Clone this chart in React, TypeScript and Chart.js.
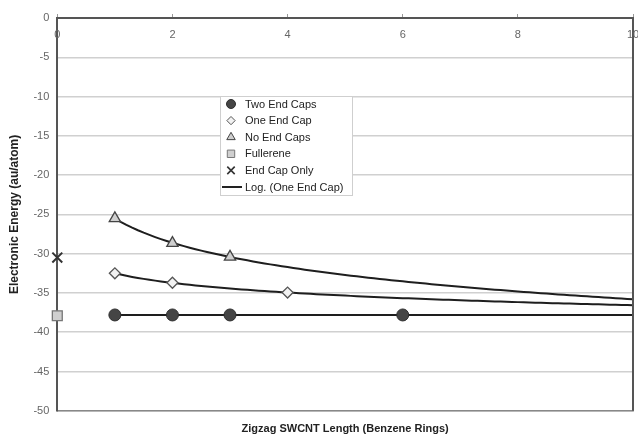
import React, { useEffect, useRef } from "react";
import { Chart, registerables } from "chart.js";

Chart.register(...registerables);

// ---- data ----
const twoEndCapsX = [1, 2, 3, 6];
const twoEndCapsY = [-37.8, -37.8, -37.8, -37.8];
const oneEndCapX = [1, 2, 4];
const oneEndCapY = [-32.5, -33.7, -34.95];
const noEndCapsX = [1, 2, 3];
const noEndCapsY = [-25.5, -28.65, -30.4];
const fullereneX = [0];
const fullereneY = [-37.9];
const endCapOnlyX = [0];
const endCapOnlyY = [-30.5];
const xTickLabels = [0, 2, 4, 6, 8, 10];
const trendStart = 1;
const trendEnd = 10;
const legendLabels = [
  "Two End Caps",
  "One End Cap",
  "No End Caps",
  "Fullerene",
  "End Cap Only",
  "Log. (One End Cap)",
];

const FONT = "'Liberation Sans', Arial, Helvetica, sans-serif";

function pts(xs: number[], ys: number[]) {
  return xs.map((x, i) => ({ x, y: ys[i] }));
}

// least-squares logarithmic trendline (y = a ln x + b), as a spreadsheet does
function logTrend(xs: number[], ys: number[]) {
  const n = xs.length;
  const lx = xs.map((x) => Math.log(x));
  const mx = lx.reduce((s, v) => s + v, 0) / n;
  const my = ys.reduce((s, v) => s + v, 0) / n;
  let sxy = 0;
  let sxx = 0;
  for (let i = 0; i < n; i++) {
    sxy += (lx[i] - mx) * (ys[i] - my);
    sxx += (lx[i] - mx) * (lx[i] - mx);
  }
  const a = sxx === 0 ? 0 : sxy / sxx;
  const b = my - a * mx;
  const out: { x: number; y: number }[] = [];
  const steps = 90;
  for (let k = 0; k <= steps; k++) {
    const x = trendStart + ((trendEnd - trendStart) * k) / steps;
    out.push({ x, y: a * Math.log(x) + b });
  }
  return out;
}

const markerStyles = [
  { pointStyle: "circle", radius: 6, bg: "#454545", border: "#2e2e2e", bw: 1 },
  { pointStyle: "rectRot", radius: 5.5, bg: "#f2f2f2", border: "#555", bw: 1.3 },
  { pointStyle: "triangle", radius: 6.5, bg: "#cfcfcf", border: "#444", bw: 1.3 },
  { pointStyle: "rect", radius: 7, bg: "#cfcfcf", border: "#777", bw: 1.3 },
  { pointStyle: "crossRot", radius: 7, bg: "#333", border: "#333", bw: 2 },
];

function drawMarker(ctx: CanvasRenderingContext2D, style: string, x: number, y: number, r: number, bg: string, border: string, bw: number) {
  ctx.save();
  ctx.fillStyle = bg;
  ctx.strokeStyle = border;
  ctx.lineWidth = bw;
  ctx.beginPath();
  if (style === "circle") {
    ctx.arc(x, y, r, 0, Math.PI * 2);
    ctx.fill();
    ctx.stroke();
  } else if (style === "rectRot") {
    ctx.moveTo(x, y - r);
    ctx.lineTo(x + r, y);
    ctx.lineTo(x, y + r);
    ctx.lineTo(x - r, y);
    ctx.closePath();
    ctx.fill();
    ctx.stroke();
  } else if (style === "triangle") {
    ctx.moveTo(x, y - r);
    ctx.lineTo(x + r * 0.87, y + r * 0.5);
    ctx.lineTo(x - r * 0.87, y + r * 0.5);
    ctx.closePath();
    ctx.fill();
    ctx.stroke();
  } else if (style === "rect") {
    const s = r * Math.SQRT1_2;
    ctx.rect(x - s, y - s, 2 * s, 2 * s);
    ctx.fill();
    ctx.stroke();
  } else if (style === "crossRot") {
    const s = r * Math.SQRT1_2;
    ctx.moveTo(x - s, y - s);
    ctx.lineTo(x + s, y + s);
    ctx.moveTo(x + s, y - s);
    ctx.lineTo(x - s, y + s);
    ctx.stroke();
  }
  ctx.restore();
}

const framePlugin = {
  id: "frameAndLabels",
  afterDraw(chart: any) {
    const { ctx, chartArea } = chart;
    const xs = chart.scales.x;
    ctx.save();
    // right border
    ctx.strokeStyle = "#555";
    ctx.lineWidth = 2;
    ctx.beginPath();
    ctx.moveTo(chartArea.right, chartArea.top);
    ctx.lineTo(chartArea.right, chartArea.bottom);
    ctx.stroke();
    // x tick labels, drawn inside the plot below the top axis
    ctx.fillStyle = "#666";
    ctx.font = `11px ${FONT}`;
    ctx.textAlign = "center";
    ctx.textBaseline = "middle";
    xTickLabels.forEach((t) => {
      ctx.fillText(String(t), xs.getPixelForValue(t), chartArea.top + 17);
    });

    // legend box
    const lx = 220;
    const ly = 96;
    const lw = 132;
    const lh = 99;
    ctx.fillStyle = "#fff";
    ctx.fillRect(lx, ly, lw, lh);
    ctx.strokeStyle = "#cfcfcf";
    ctx.lineWidth = 1;
    ctx.strokeRect(lx + 0.5, ly + 0.5, lw, lh);
    ctx.font = `11px ${FONT}`;
    ctx.textAlign = "left";
    ctx.textBaseline = "middle";
    legendLabels.forEach((label, i) => {
      const y = ly + 8 + i * 16.6;
      if (i < markerStyles.length) {
        const m = markerStyles[i];
        drawMarker(ctx, m.pointStyle, lx + 11, y, m.radius * 0.75, m.bg, m.border, i === 4 ? 1.6 : 1);
      } else {
        ctx.strokeStyle = "#222";
        ctx.lineWidth = 2;
        ctx.beginPath();
        ctx.moveTo(lx + 2, y);
        ctx.lineTo(lx + 22, y);
        ctx.stroke();
      }
      ctx.fillStyle = "#222";
      ctx.fillText(label, lx + 25, y + 0.5);
    });
    ctx.restore();
  },
};

export default function App() {
  const ref = useRef<HTMLCanvasElement | null>(null);

  useEffect(() => {
    if (!ref.current) return;
    const seriesX = [twoEndCapsX, oneEndCapX, noEndCapsX, fullereneX, endCapOnlyX];
    const seriesY = [twoEndCapsY, oneEndCapY, noEndCapsY, fullereneY, endCapOnlyY];
    const pointSets: any[] = seriesX.map((xs, i) => {
      const m = markerStyles[i];
      return {
        type: "scatter",
        label: legendLabels[i],
        data: pts(xs, seriesY[i]),
        pointStyle: m.pointStyle,
        pointRadius: m.radius,
        pointBackgroundColor: m.bg,
        pointBorderColor: m.border,
        pointBorderWidth: m.bw,
        showLine: false,
        clip: false,
        order: 1,
      };
    });
    const trendSets: any[] = [
      [twoEndCapsX, twoEndCapsY],
      [oneEndCapX, oneEndCapY],
      [noEndCapsX, noEndCapsY],
    ].map(([xs, ys]) => ({
      type: "line",
      label: "trend",
      data: logTrend(xs as number[], ys as number[]),
      borderColor: "#1e1e1e",
      borderWidth: 2,
      pointRadius: 0,
      fill: false,
      tension: 0,
      order: 5,
    }));

    const chart = new Chart(ref.current, {
      type: "scatter",
      data: { datasets: [...pointSets, ...trendSets] },
      options: {
        animation: false,
        responsive: true,
        maintainAspectRatio: false,
        layout: { autoPadding: false, padding: { top: 14, right: 5, left: 7, bottom: 3 } },
        plugins: { legend: { display: false }, tooltip: { enabled: false } },
        scales: {
          x: {
            type: "linear",
            position: "top",
            min: 0,
            max: 10,
            ticks: { display: false, stepSize: 2 },
            grid: { display: true, drawOnChartArea: false, tickLength: 4, color: "#999" },
            border: { display: true, color: "#555", width: 2 },
          },
          x2: {
            type: "linear",
            position: "bottom",
            min: 0,
            max: 10,
            ticks: { display: false },
            grid: { display: false },
            border: { display: true, color: "#888", width: 1.5 },
            title: {
              display: true,
              text: "Zigzag SWCNT Length (Benzene Rings)",
              color: "#222",
              font: { family: FONT, size: 11, weight: "bold" },
              padding: { top: 4, bottom: 0 },
            },
          },
          y: {
            type: "linear",
            min: -50,
            max: 0,
            ticks: { stepSize: 5, color: "#666", font: { family: FONT, size: 11 }, padding: 8 },
            grid: { color: "#d0d0d0", lineWidth: 1.5, drawTicks: false },
            border: { display: true, color: "#555", width: 2 },
            title: {
              display: true,
              text: "Electronic Energy (au/atom)",
              color: "#222",
              font: { family: FONT, size: 12, weight: "bold" },
              padding: { top: 0, bottom: 4 },
            },
          },
        },
      } as any,
      plugins: [framePlugin],
    });
    return () => chart.destroy();
  }, []);

  return (
    <div style={{ position: "fixed", left: 0, top: 0, width: 638, height: 439, background: "#fff" }}>
      <canvas ref={ref} />
    </div>
  );
}
